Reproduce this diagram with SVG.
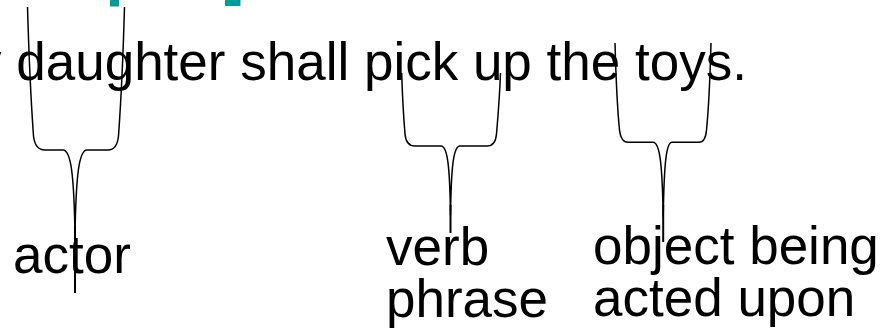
<svg xmlns="http://www.w3.org/2000/svg" width="883" height="336" viewBox="0 0 883 336">
  <style>
    .t { font-family: "Liberation Sans", Arial, sans-serif; font-size: 53px; fill: #000; }
    .brace { fill: none; stroke: #000; stroke-width: 1.5; stroke-linejoin: round; }
    .stem { stroke: #000; stroke-width: 2; }
    .teal { fill: #009B9B; }
  </style>
  <rect width="883" height="336" fill="#fff"/>
  <g id="title-fragment">
    <rect class="teal" x="110" y="0" width="9" height="6.5"/>
    <rect class="teal" x="225" y="0" width="15.5" height="6"/>
  </g>
  <g id="sentence">
    <text class="t" x="-25" y="80">y daughter shall pick up the toys.</text>
  </g>
  <g id="connectors">
    <path class="brace" d="M27.5,7 C29,60 32,115 33.5,136 Q35,150 45,150 L63,150 C71,150 74,175 75,235 C76,175 79,150 87,150 L108,150 Q117,150 118.5,136 C120,115 123,60 124.5,7"/>
    <line class="stem" x1="75" y1="225" x2="75" y2="293"/>
    <path class="brace" d="M401.7,73 C402.5,100 404,122 405,134 Q406,146 415,146 L441,146 C448,146 449.8,170 450.5,215 C451.2,170 453,146 460,146 L487,146 Q495.5,146 496.5,134 C497.5,122 499.5,100 500.5,73"/>
    <line class="stem" x1="450.5" y1="205" x2="450.5" y2="233"/>
    <path class="brace" d="M615,43 C616,80 618,115 619.5,130 Q621,142.3 628,142.3 L653,142.3 C660,142.3 662.3,165 663.2,217 C664.1,165 666,142.3 672,142.3 L699,142.3 Q705.5,142.3 706.5,130 C708,115 710,80 711,43"/>
    <line class="stem" x1="663.2" y1="205" x2="663.2" y2="242"/>
  </g>
  <g id="label-actor">
    <text class="t" x="13" y="273">actor</text>
  </g>
  <g id="label-verb">
    <text class="t" x="386" y="265">verb</text>
    <text class="t" x="386" y="317">phrase</text>
  </g>
  <g id="label-object">
    <text class="t" x="593" y="264">object being</text>
    <text class="t" x="593" y="316">acted upon</text>
  </g>
</svg>
